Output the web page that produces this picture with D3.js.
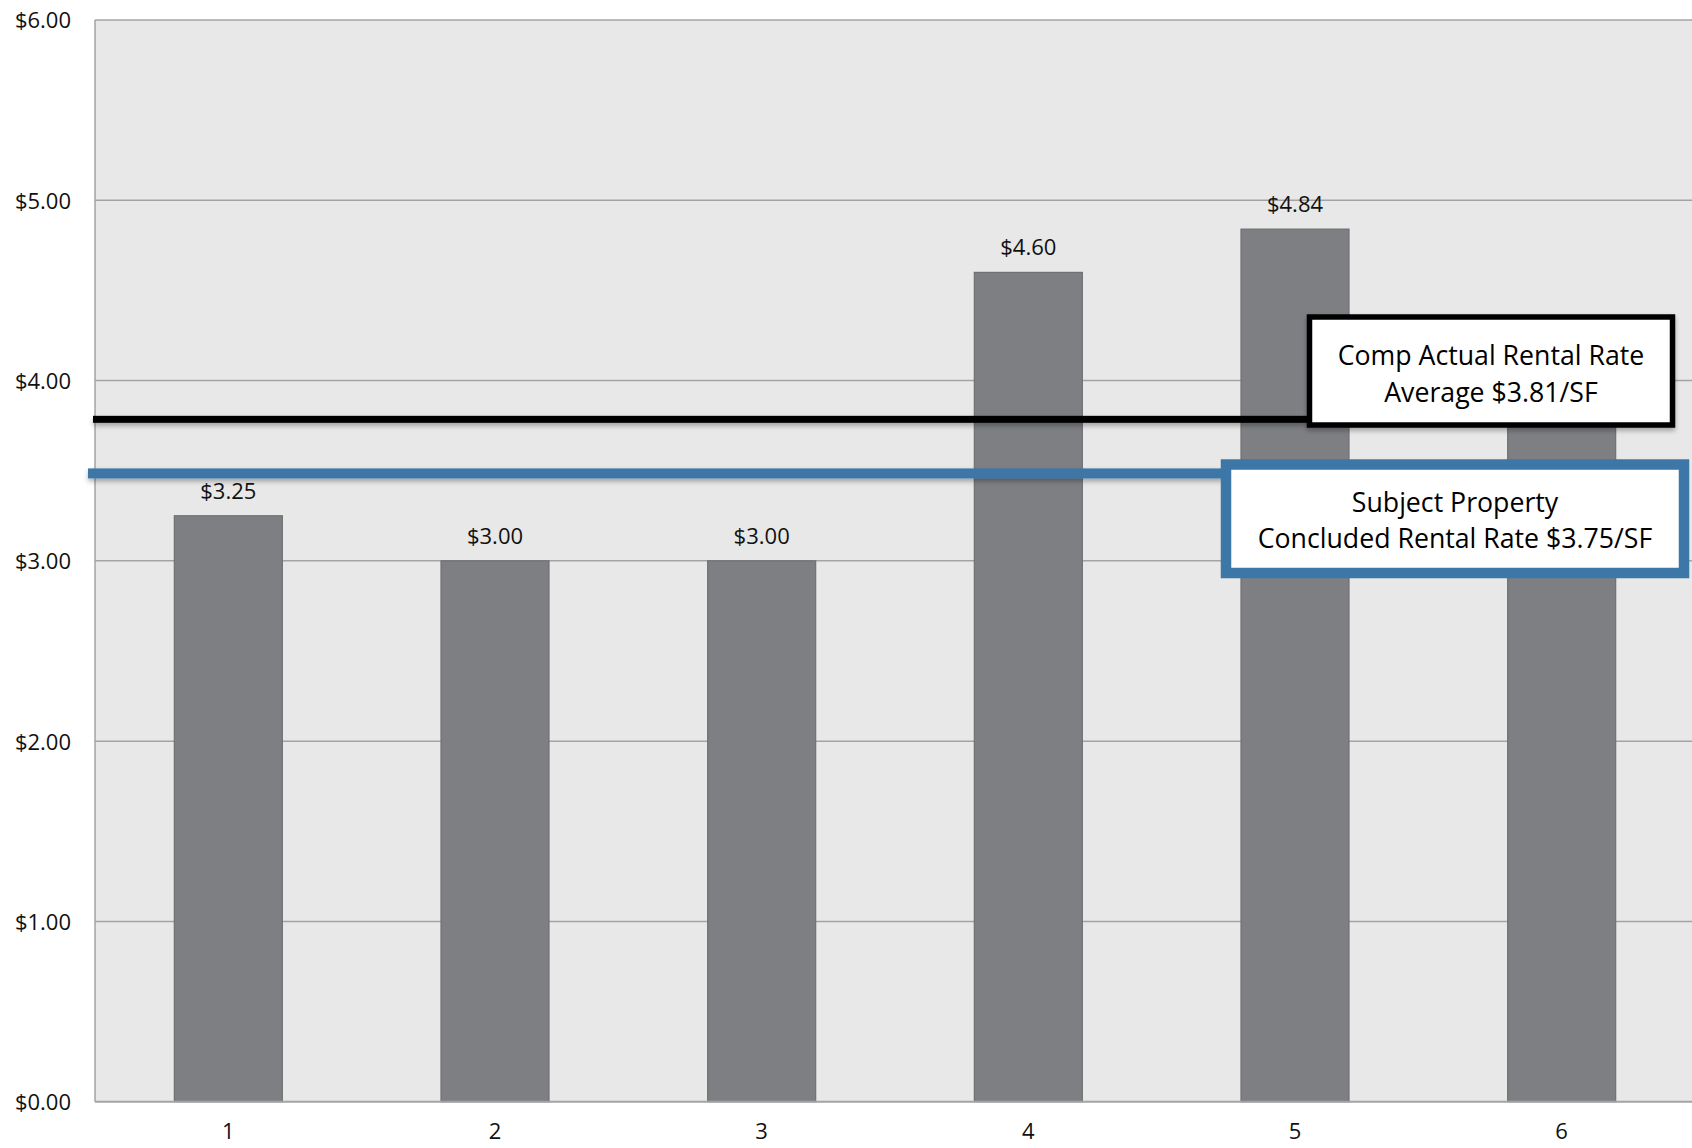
<!DOCTYPE html>
<html><head><meta charset="utf-8">
<script src="https://cdn.jsdelivr.net/npm/d3@7"></script>
<style>
html,body{margin:0;padding:0;background:#fff;}
svg{display:block;font-family:"Open Sans",sans-serif;}
</style></head>
<body><svg id="chart" width="1692" height="1148"></svg>
<script>
const categories = ["1","2","3","4","5","6"];
const values = [3.25, 3.00, 3.00, 4.60, 4.84, 4.17];
const barLabels = ["$3.25","$3.00","$3.00","$4.60","$4.84","$4.17"];
const yTicks = [0,1,2,3,4,5,6];
const yTickLabels = ["$0.00","$1.00","$2.00","$3.00","$4.00","$5.00","$6.00"];
const avgLineValue = 3.785;
const subjectLineValue = 3.485;
const avgText = ["Comp Actual Rental Rate","Average $3.81/SF"];
const subjectText = ["Subject Property","Concluded Rental Rate $3.75/SF"];

const svg = d3.select("#chart");
const m = {left:95, top:20, right:-3, bottom:46};
const W = 1692, H = 1148;
const x = d3.scaleBand().domain(categories).range([m.left, W - m.right]).paddingInner(0.595).paddingOuter(0.2975);
const y = d3.scaleLinear().domain([0,6]).range([1101.7, m.top]);

const defs = svg.append("defs");
const f = defs.append("filter").attr("id","sh").attr("filterUnits","userSpaceOnUse")
  .attr("x",0).attr("y",0).attr("width",W).attr("height",H);
f.append("feDropShadow").attr("dx",0).attr("dy",3).attr("stdDeviation",2.5).attr("flood-color","#000").attr("flood-opacity",0.3);

// plot background
svg.append("rect").attr("x",m.left).attr("y",y(6)).attr("width",W-m.left+5).attr("height",y(0)-y(6))
  .attr("fill","#e7e8e7");

// gridlines
svg.append("g").selectAll("line").data(yTicks.filter(d=>d>0)).join("line")
  .attr("x1",m.left).attr("x2",W).attr("y1",d=>y(d)).attr("y2",d=>y(d))
  .attr("stroke","#a3a3a3").attr("stroke-width",1.5);

// left border
svg.append("line").attr("x1",m.left).attr("x2",m.left).attr("y1",y(6)).attr("y2",y(0))
  .attr("stroke","#a3a3a3").attr("stroke-width",1.5);

// y axis labels
const yAxis = d3.axisLeft(y).tickValues(yTicks).tickFormat(d=>yTickLabels[yTicks.indexOf(d)]).tickSize(0).tickPadding(24);
const ya = svg.append("g").attr("transform",`translate(${m.left},0)`).call(yAxis);
ya.select(".domain").remove();
ya.selectAll("text").attr("font-size",22).attr("fill","#111").attr("font-family","Open Sans").attr("dy","0.36em");

// bars
svg.append("g").selectAll("rect").data(values).join("rect")
  .attr("x",(d,i)=>x(categories[i])).attr("width",x.bandwidth())
  .attr("y",d=>y(d)).attr("height",d=>y(0)-y(d))
  .attr("fill","#7e7f83").attr("stroke","#6f7073").attr("stroke-width",1.2);

// bar labels
svg.append("g").selectAll("text").data(values).join("text")
  .attr("x",(d,i)=>x(categories[i])+x.bandwidth()/2).attr("y",d=>y(d)-17)
  .attr("text-anchor","middle").attr("font-size",22).attr("fill","#111").text((d,i)=>barLabels[i]);

// x axis
svg.append("line").attr("x1",m.left).attr("x2",W).attr("y1",y(0)).attr("y2",y(0))
  .attr("stroke","#a3a3a3").attr("stroke-width",2);
const xAxis = d3.axisBottom(x).tickSize(0).tickPadding(22);
const xa = svg.append("g").attr("transform",`translate(0,${y(0)})`).call(xAxis);
xa.select(".domain").remove();
xa.selectAll("text").attr("font-size",22).attr("fill","#111").attr("font-family","Open Sans");

// average line
svg.append("rect").attr("x",93).attr("width",1310-93).attr("y",y(avgLineValue)-3.5).attr("height",7)
  .attr("fill","#000").attr("filter","url(#sh)");
// subject line
svg.append("rect").attr("x",88).attr("width",1225-88).attr("y",y(subjectLineValue)-5).attr("height",10)
  .attr("fill","#3d77a8").attr("filter","url(#sh)");

// avg box
svg.append("rect").attr("x",1309.5).attr("y",317).attr("width",363).attr("height",108)
  .attr("fill","#fff").attr("stroke","#000").attr("stroke-width",5.5).attr("filter","url(#sh)");
svg.append("g").selectAll("text").data(avgText).join("text")
  .attr("x",1491).attr("y",(d,i)=>365+i*36.5).attr("text-anchor","middle")
  .attr("font-size",26.7).attr("fill","#000").text(d=>d);

// subject box
svg.append("rect").attr("x",1226).attr("y",464.5).attr("width",458).attr("height",108.5)
  .attr("fill","#fff").attr("stroke","#3d77a8").attr("stroke-width",10.5);
svg.append("g").selectAll("text").data(subjectText).join("text")
  .attr("x",1455).attr("y",(d,i)=>511.5+i*36).attr("text-anchor","middle")
  .attr("font-size",26.7).attr("fill","#000").text(d=>d);
</script></body></html>
